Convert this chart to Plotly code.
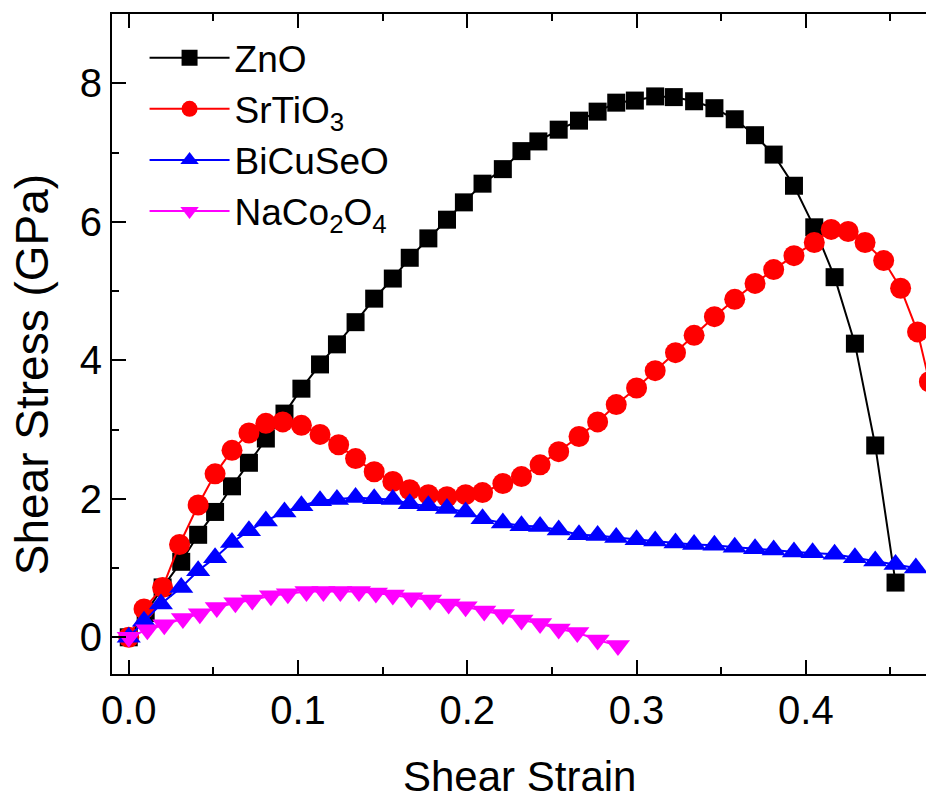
import plotly.graph_objects as go

# ---- data ----
zno_x = [0.000, 0.010, 0.020, 0.031, 0.041, 0.051, 0.061, 0.071, 0.081, 0.092,
         0.102, 0.113, 0.123, 0.134, 0.145, 0.156, 0.166, 0.177, 0.188, 0.198,
         0.209, 0.221, 0.232, 0.242, 0.254, 0.266, 0.277, 0.288, 0.299, 0.311,
         0.322, 0.334, 0.346, 0.358, 0.370, 0.381, 0.393, 0.405, 0.417, 0.429,
         0.441, 0.453]
zno_y = [0.00, 0.35, 0.72, 1.09, 1.48, 1.81, 2.18, 2.52, 2.87, 3.23,
         3.59, 3.94, 4.23, 4.55, 4.89, 5.18, 5.48, 5.76, 6.03, 6.28,
         6.55, 6.76, 7.02, 7.16, 7.33, 7.46, 7.59, 7.72, 7.75, 7.81,
         7.80, 7.74, 7.64, 7.48, 7.25, 6.97, 6.52, 5.92, 5.20, 4.24,
         2.77, 0.79]

sto_x = [0.000, 0.009, 0.020, 0.030, 0.041, 0.051, 0.061, 0.071, 0.081, 0.091,
         0.102, 0.113, 0.124, 0.134, 0.145, 0.156, 0.166, 0.177, 0.188, 0.199,
         0.209, 0.221, 0.232, 0.243, 0.254, 0.266, 0.277, 0.288, 0.300, 0.311,
         0.323, 0.334, 0.346, 0.358, 0.370, 0.381, 0.393, 0.405, 0.415, 0.425,
         0.435, 0.446, 0.456, 0.466, 0.473]
sto_y = [0.00, 0.41, 0.72, 1.34, 1.91, 2.36, 2.70, 2.95, 3.09, 3.11,
         3.06, 2.93, 2.78, 2.58, 2.39, 2.25, 2.13, 2.06, 2.03, 2.06,
         2.09, 2.22, 2.32, 2.49, 2.68, 2.90, 3.11, 3.36, 3.60, 3.85,
         4.11, 4.36, 4.63, 4.88, 5.11, 5.31, 5.51, 5.70, 5.89, 5.86,
         5.70, 5.44, 5.04, 4.41, 3.69]

bcs_x = [0.000, 0.009, 0.019, 0.031, 0.041, 0.051, 0.061, 0.071, 0.081, 0.092,
         0.102, 0.113, 0.123, 0.134, 0.145, 0.156, 0.166, 0.177, 0.188, 0.199,
         0.209, 0.221, 0.232, 0.243, 0.254, 0.266, 0.277, 0.288, 0.300, 0.311,
         0.323, 0.334, 0.346, 0.358, 0.370, 0.381, 0.393, 0.404, 0.417, 0.429,
         0.441, 0.453, 0.465]
bcs_y = [0.00, 0.23, 0.48, 0.72, 0.96, 1.15, 1.37, 1.54, 1.68, 1.81,
         1.90, 1.97, 1.99, 2.02, 2.00, 1.99, 1.93, 1.90, 1.86, 1.81,
         1.71, 1.65, 1.61, 1.60, 1.55, 1.48, 1.47, 1.44, 1.41, 1.39,
         1.36, 1.34, 1.33, 1.30, 1.28, 1.26, 1.23, 1.22, 1.20, 1.15,
         1.10, 1.05, 1.00]

nco_x = [0.000, 0.011, 0.021, 0.032, 0.042, 0.052, 0.063, 0.073, 0.084, 0.094,
         0.105, 0.115, 0.125, 0.136, 0.146, 0.156, 0.167, 0.178, 0.189, 0.199,
         0.210, 0.221, 0.232, 0.243, 0.254, 0.265, 0.277, 0.289]
nco_y = [0.00, 0.11, 0.18, 0.27, 0.34, 0.43, 0.50, 0.54, 0.60, 0.63,
         0.66, 0.66, 0.66, 0.66, 0.64, 0.61, 0.57, 0.54, 0.48, 0.44,
         0.38, 0.33, 0.25, 0.20, 0.12, 0.07, -0.04, -0.12]

x_ticks = [0.0, 0.1, 0.2, 0.3, 0.4]
y_ticks = [0, 2, 4, 6, 8]

FONT = "Arial, Liberation Sans, sans-serif"

fig = go.Figure()
fig.add_trace(go.Scatter(x=zno_x, y=zno_y, mode="lines+markers", name="ZnO",
                         line=dict(color="#000000", width=2),
                         marker=dict(symbol="square", size=18, color="#000000")))
fig.add_trace(go.Scatter(x=sto_x, y=sto_y, mode="lines+markers", name="SrTiO<sub>3</sub>",
                         line=dict(color="#FF0000", width=2),
                         marker=dict(symbol="circle", size=21, color="#FF0000")))
fig.add_trace(go.Scatter(x=bcs_x, y=bcs_y, mode="lines+markers", name="BiCuSeO",
                         line=dict(color="#0000FF", width=2),
                         marker=dict(symbol="triangle-up", size=21, color="#0000FF")))
fig.add_trace(go.Scatter(x=nco_x, y=nco_y, mode="lines+markers", name="NaCo<sub>2</sub>O<sub>4</sub>",
                         line=dict(color="#FF00FF", width=2),
                         marker=dict(symbol="triangle-down", size=21, color="#FF00FF")))

axis_common = dict(showgrid=False, zeroline=False, showline=True, linecolor="black",
                   linewidth=2, ticks="inside", ticklen=14, tickwidth=2, tickcolor="black",
                   tickfont=dict(family=FONT, size=40, color="black"))

fig.update_xaxes(range=[-0.0099, 0.471], tickvals=x_ticks, ticktext=[f"{v:.1f}" for v in x_ticks],
                 mirror="ticks",
                 minor=dict(ticks="inside", ticklen=7, tickwidth=2, tickcolor="black", dtick=0.05,
                            tick0=0, showgrid=False),
                 **axis_common)
fig.update_yaxes(range=[-0.53, 9.0], tickvals=y_ticks, ticktext=[str(v) for v in y_ticks],
                 mirror=False,
                 minor=dict(ticks="inside", ticklen=7, tickwidth=2, tickcolor="black", dtick=1,
                            tick0=0, showgrid=False),
                 **axis_common)

fig.add_annotation(text="Shear Stress (GPa)", xref="paper", yref="paper",
                   x=-0.098, y=0.453, xanchor="center", yanchor="middle", textangle=-90,
                   showarrow=False, font=dict(family=FONT, size=46, color="black"))
fig.add_annotation(text="Shear Strain", xref="paper", yref="paper",
                   x=0.5, y=-0.156, xanchor="center", yanchor="middle",
                   showarrow=False, font=dict(family=FONT, size=42, color="black"))

fig.update_layout(
    width=926, height=800,
    margin=dict(l=112, r=0, t=14, b=126),
    paper_bgcolor="white", plot_bgcolor="white",
    showlegend=True,
    legend=dict(x=0.04, y=0.98, xanchor="left", yanchor="top",
                bgcolor="rgba(0,0,0,0)", borderwidth=0,
                font=dict(family=FONT, size=37, color="black"),
                itemwidth=80, tracegroupgap=0),
)

fig.write_html("out.html")
